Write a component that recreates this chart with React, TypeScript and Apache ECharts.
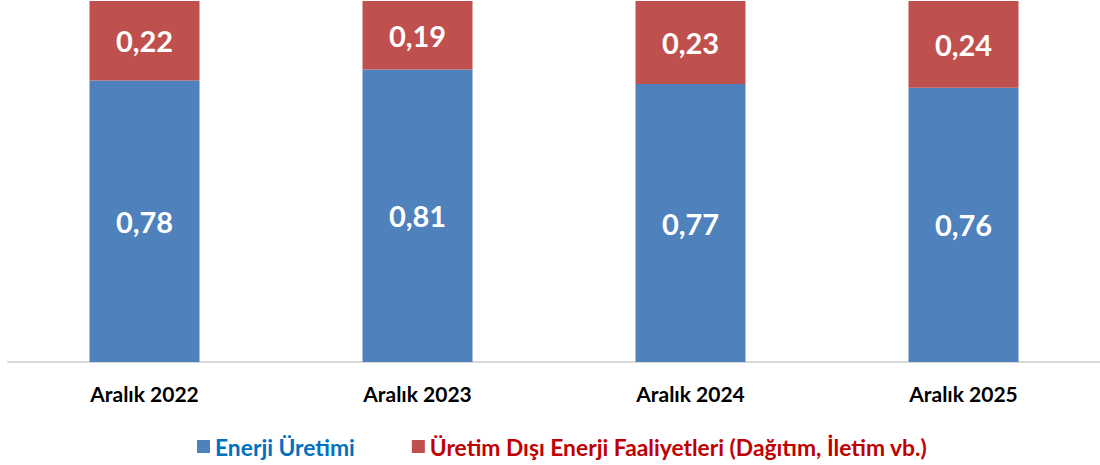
import React, { useEffect, useRef } from "react";
import * as echarts from "echarts";

const categories = ["Aralık 2022", "Aralık 2023", "Aralık 2024", "Aralık 2025"];
const enerjiUretimi = [0.78, 0.81, 0.77, 0.76];
const uretimDisi = [0.22, 0.19, 0.23, 0.24];
const seriesNames = ["Enerji Üretimi", "Üretim Dışı Enerji Faaliyetleri (Dağıtım, İletim vb.)"];

const FONT = "Lato";

export default function App() {
  const ref = useRef<HTMLDivElement>(null);
  useEffect(() => {
    if (!ref.current) return;
    const chart = echarts.init(ref.current, null, { renderer: "svg" });
    const label = {
      show: true,
      position: "inside",
      color: "#ffffff",
      fontFamily: FONT,
      fontWeight: "bold",
      fontSize: 29,
      formatter: (p: any) => p.value.toFixed(2).replace(".", ","),
    };
    chart.setOption({
      animation: false,
      grid: { left: 8, right: 0, top: 1, height: 361, containLabel: false },
      legend: {
        top: 430,
        left: 192,
        itemWidth: 13,
        itemHeight: 13,
        itemGap: 57,
        icon: "rect",
        textStyle: { fontFamily: FONT, fontWeight: "bold", fontSize: 22.8 },
        data: [
          { name: seriesNames[0], textStyle: { color: "#0070C0" } },
          { name: seriesNames[1], textStyle: { color: "#C00000" } },
        ],
      },
      xAxis: {
        type: "category",
        data: categories,
        axisLine: { lineStyle: { color: "#D9D9D9", width: 2 } },
        axisTick: { show: false },
        axisLabel: {
          color: "#000000",
          fontFamily: FONT,
          fontWeight: "bold",
          fontSize: 21,
          margin: 21,
        },
      },
      yAxis: {
        type: "value",
        min: 0,
        max: 1,
        show: false,
        splitLine: { show: false },
      },
      series: [
        {
          name: seriesNames[0],
          type: "bar",
          stack: "total",
          barWidth: 110,
          itemStyle: { color: "#4F81BD" },
          label,
          data: enerjiUretimi,
        },
        {
          name: seriesNames[1],
          type: "bar",
          stack: "total",
          barWidth: 110,
          itemStyle: { color: "#C0504D" },
          label,
          data: uretimDisi,
        },
      ],
    });
    return () => chart.dispose();
  }, []);
  return (
    <div
      ref={ref}
      style={{ position: "absolute", left: 0, top: 0, width: 1100, height: 465 }}
    />
  );
}
